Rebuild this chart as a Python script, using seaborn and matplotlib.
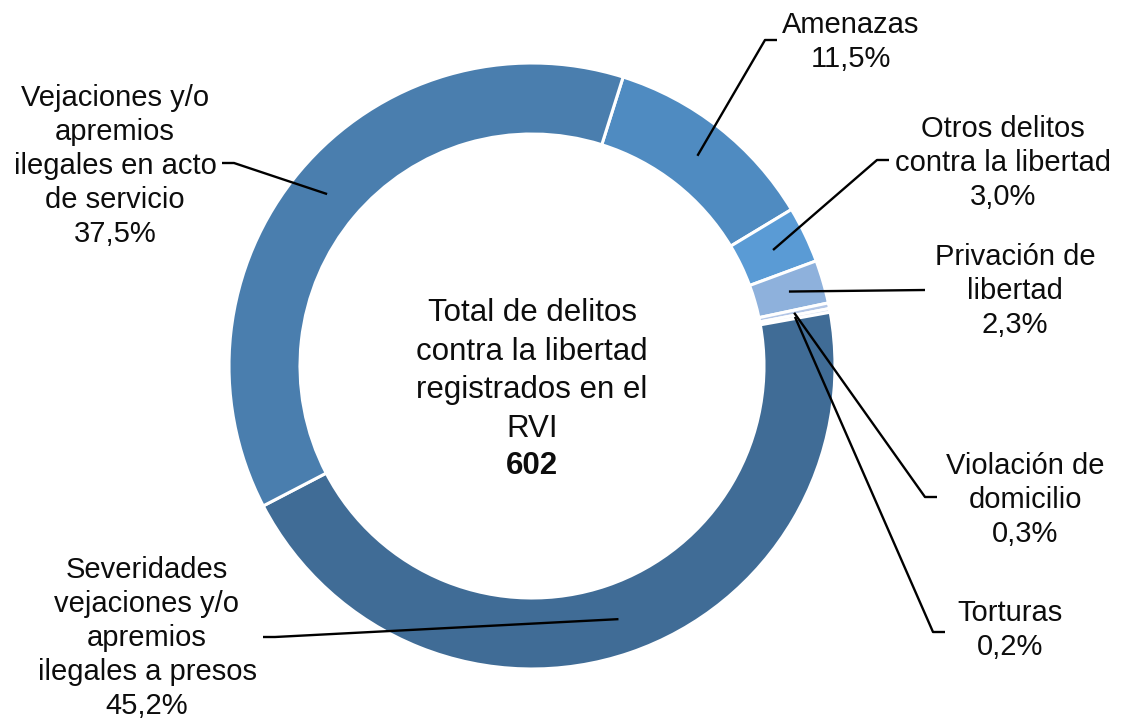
"""
Donut chart - delitos contra la libertad registrados en el RVI
"""

import numpy as np
import matplotlib
matplotlib.use("Agg")
import matplotlib.pyplot as plt
import seaborn as sns

# data, in the order the ring is drawn (clockwise)
categories = [
    "Amenazas",
    "Otros delitos\ncontra la libertad",
    "Privación de\nlibertad",
    "Violación de\ndomicilio",
    "Torturas",
    "Severidades\nvejaciones y/o\napremios\nilegales a presos",
    "Vejaciones y/o\napremios\nilegales en acto\nde servicio",
]
percentages = [11.5, 3.0, 2.3, 0.3, 0.2, 45.2, 37.5]
total = 602

colors = ["#4f8bc1", "#5a9bd5", "#8eb1dc", "#b4c7e7", "#d6e1f2", "#406c96", "#4a7eae"]

# label placement (pixel coordinates of the reference, y from the top)
label_pos = [(851, 42), (1003, 163), (1015, 291), (1025, 500), (1010, 630), (147, 638), (115, 166)]
# leader line: elbow point and end point near the text
leader_elbow = [(765, 40), (877, 160), (925, 290), (925, 497), (933, 632), (275, 637), (234, 163)]
leader_end = [(777, 40), (889, 160), (925, 290), (937, 497), (945, 632), (263, 637), (222, 163)]

W, H = 1124, 722
cx, cy = 532, 366
r_out, ring = 303, 71


def px(x, y):
    return x, H - y


sns.set_style("white")
plt.rcParams["font.family"] = ["Liberation Sans", "DejaVu Sans"]

fig = plt.figure(figsize=(W / 100, H / 100), dpi=100)
ax = fig.add_axes([0, 0, 1, 1])

wedges, _ = ax.pie(
    percentages,
    colors=colors,
    startangle=72.5,
    counterclock=False,
    center=px(cx, cy),
    radius=r_out,
    wedgeprops=dict(width=ring, edgecolor="white", linewidth=2.2),
)

r_mid = r_out - ring / 2
for w, lab, pct, pos, elb, end in zip(wedges, categories, percentages, label_pos, leader_elbow, leader_end):
    ang = np.deg2rad((w.theta1 + w.theta2) / 2)
    x0 = cx + r_mid * np.cos(ang)
    y0 = (H - cy) + r_mid * np.sin(ang)
    xs = [x0, elb[0], end[0]]
    ys = [y0, H - elb[1], H - end[1]]
    ax.plot(xs, ys, color="black", lw=1.7, solid_capstyle="butt", zorder=3)
    txt = lab + "\n" + f"{pct:.1f}%".replace(".", ",")
    ax.text(*px(*pos), txt, ha="center", va="center", fontsize=21,
            color="#0d0d0d", linespacing=1.27)

ax.text(*px(cx, 371), "Total de delitos\ncontra la libertad\nregistrados en el\nRVI",
        ha="center", va="center", fontsize=22.5, color="#0d0d0d", linespacing=1.37)
ax.text(*px(cx, 466), str(total), ha="center", va="center", fontsize=22.5,
        fontweight="bold", color="#0d0d0d")

ax.set_xlim(0, W)
ax.set_ylim(0, H)
ax.set_aspect("equal")
ax.axis("off")

fig.savefig("out.png", dpi=100, facecolor="white")
